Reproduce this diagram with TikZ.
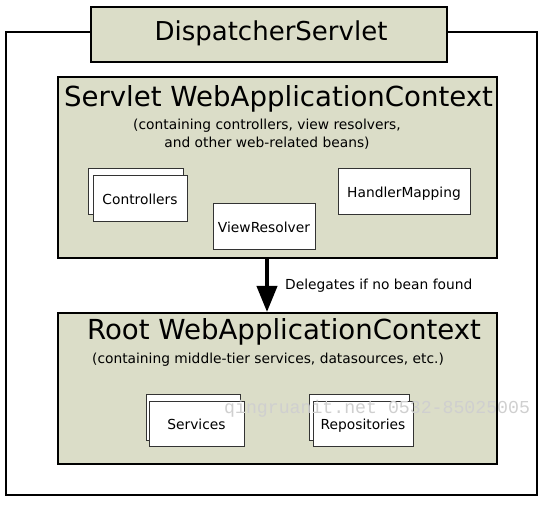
\documentclass[tikz,border=0pt]{standalone}
\usepackage{fontspec}
\setmainfont{DejaVu Sans}
\newfontfamily\wmfont{Liberation Mono}
\usetikzlibrary{arrows.meta}
\definecolor{ctxfill}{HTML}{DBDDC8}
\definecolor{wmgray}{HTML}{CFCFCF}
\tikzset{
  ctxbox/.style={draw=black, line width=2pt, fill=ctxfill, inner sep=0pt},
  beanbox/.style={draw=black!80, line width=1pt, fill=white, inner sep=0pt, text height=12pt, text depth=1pt, font=\fontsize{13.8}{16}\selectfont},
  frameline/.style={draw=black, line width=1.5pt},
  bigtitle/.style={font=\fontsize{26}{30}\selectfont, inner sep=0pt},
  subtitle/.style={font=\fontsize{13.8}{18}\selectfont, inner sep=0pt, align=center},
  delegarrow/.style={line width=4pt, -{Triangle[width=20pt,length=26pt]}},
}
\begin{document}
\begin{tikzpicture}[x=1pt,y=-1pt]
\useasboundingbox (0,0) rectangle (544,505);
% outer frame
\coordinate (ftl) at (6,32);
\coordinate (ftr) at (537,32);
\coordinate (fbl) at (6,495);
\coordinate (fbr) at (537,495);
\node[ctxbox, minimum width=356pt, minimum height=55pt] (disp) at (269,34.5) {};
\node[bigtitle] (disptitle) at (271,33) {DispatcherServlet};
\draw[frameline] (disp.west |- ftl) -- (ftl) -- (fbl) -- (fbr) -- (ftr) -- (disp.east |- ftr);

% servlet context
\node[ctxbox, minimum width=439pt, minimum height=181pt] (servlet) at (277.5,167.5) {};
\node[bigtitle, font=\fontsize{27.6}{30}\selectfont] (servtitle) at (278.5,99) {Servlet WebApplicationContext};
\node[subtitle] (servsub) at (267,134) {(containing controllers, view resolvers,\\and other web-related beans)};

\node[beanbox, minimum width=95pt, minimum height=46pt] (ctrlback) at (135.5,192) {};
\node[beanbox, minimum width=94pt, minimum height=46pt] (ctrl) at (140,199) {Controllers};
\node[beanbox, minimum width=102pt, minimum height=46pt] (viewres) at (264,227) {ViewResolver};
\node[beanbox, minimum width=132pt, minimum height=46pt] (handler) at (404,192) {HandlerMapping};

% root context
\node[ctxbox, minimum width=439pt, minimum height=151pt] (root) at (277.5,388.5) {};
\node[bigtitle, font=\fontsize{27.6}{30}\selectfont] (roottitle) at (284,332) {Root WebApplicationContext};
\node[subtitle] (rootsub) at (268,360) {(containing middle-tier services, datasources, etc.)};

\node[beanbox, minimum width=94pt, minimum height=46pt] (servback) at (193,417) {};
\node[beanbox, minimum width=95pt, minimum height=45pt] (serv) at (196.5,423.5) {Services};
\node[beanbox, minimum width=100pt, minimum height=46pt] (repoback) at (359,417) {};
\node[beanbox, minimum width=100pt, minimum height=45pt] (repo) at (363,423.5) {Repositories};

% delegation arrow
\coordinate (ax) at (267,0);
\draw[delegarrow] (ax |- servlet.south) -- (ax |- root.north);
\node[anchor=west, inner sep=0pt, font=\fontsize{13.8}{16}\selectfont] (deleg) at (285,286) {Delegates if no bean found};

% watermark
\node[anchor=west, inner sep=0pt, text=wmgray, font=\wmfont\fontsize{18.2}{20}\selectfont] (wm) at (224,409) {qingruanit.net 0532-85025005};
\end{tikzpicture}
\end{document}
